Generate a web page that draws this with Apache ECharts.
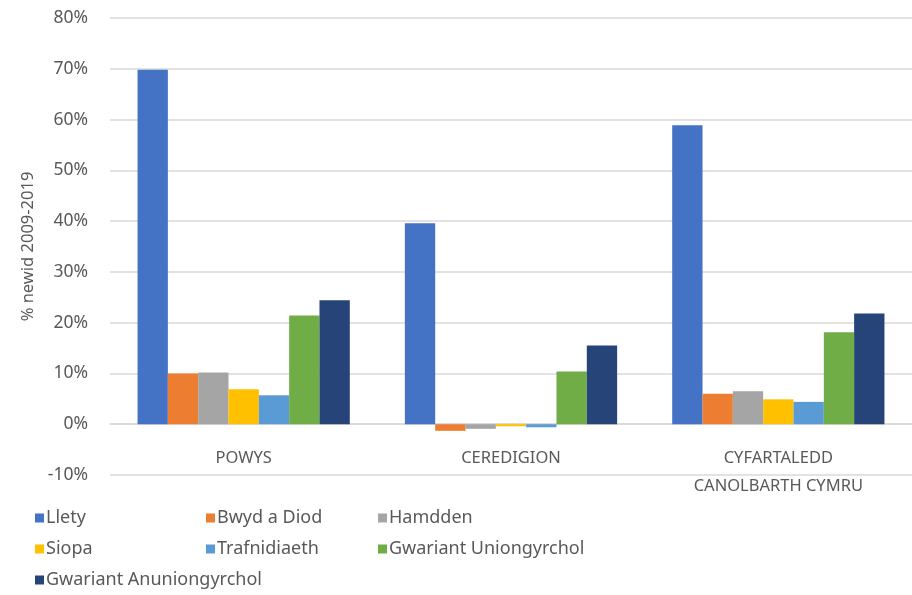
<!DOCTYPE html>
<html>
<head>
<meta charset="utf-8">
<script src="https://cdn.jsdelivr.net/npm/echarts@6/dist/echarts.min.js"></script>
<style>
  html, body { margin: 0; padding: 0; background: #fff; }
  #chart { width: 912px; height: 595px; }
</style>
</head>
<body>
<div id="chart"></div>
<script>
const categories = ['POWYS', 'CEREDIGION', 'CYFARTALEDD\nCANOLBARTH CYMRU']
const seriesNames = ['Llety', 'Bwyd a Diod', 'Hamdden', 'Siopa', 'Trafnidiaeth', 'Gwariant Uniongyrchol', 'Gwariant Anuniongyrchol']
const llety = [69.8, 39.6, 58.9]
const bwyd = [10.0, -1.3, 6.0]
const hamdden = [10.2, -0.9, 6.5]
const siopa = [6.9, -0.4, 4.9]
const trafnidiaeth = [5.7, -0.6, 4.4]
const uniongyrchol = [21.4, 10.4, 18.1]
const anuniongyrchol = [24.4, 15.5, 21.8]
const colors = ['#4472C4', '#ED7D31', '#A5A5A5', '#FFC000', '#5B9BD5', '#70AD47', '#264478']

const values = [llety, bwyd, hamdden, siopa, trafnidiaeth, uniongyrchol, anuniongyrchol]
const font = "'Noto Sans', 'Open Sans', sans-serif"
const textColor = '#595959'

// one legend per item so the three columns line up
const colX = [35, 206, 378]
const rowY = [509, 540, 571]
const legends = seriesNames.map((name, i) => ({
    data: [name],
    left: colX[i % 3],
    top: rowY[Math.floor(i / 3)],
    padding: 0,
    icon: 'rect',
    itemWidth: 9,
    itemHeight: 9,
    itemGap: 0,
    textStyle: { fontFamily: font, fontSize: 18, color: textColor, padding: [0, 0, 0, -3] }
}))

const chart = echarts.init(document.getElementById('chart'))
chart.setOption({
    animation: false,
    color: colors,
    legend: legends,
    grid: { left: 110, right: 0, top: 18, bottom: 120, containLabel: false },
    xAxis: {
        type: 'category',
        data: categories,
        // category labels sit under the 0% line, one step above the grid bottom
        offset: -51,
        axisLine: { show: true, onZero: false, lineStyle: { color: '#d9d9d9', width: 1.5 } },
        axisTick: { show: false },
        axisLabel: {
            fontFamily: font, fontSize: 16.5, color: textColor,
            lineHeight: 28, margin: 20, interval: 0
        }
    },
    yAxis: {
        type: 'value',
        min: -10,
        max: 80,
        interval: 10,
        name: '% newid 2009-2019',
        nameLocation: 'middle',
        nameGap: 73,
        nameTextStyle: { fontFamily: font, fontSize: 16.5, color: textColor },
        axisLine: { show: false },
        axisTick: { show: false },
        axisLabel: {
            fontFamily: font, fontSize: 17.5, color: textColor, margin: 22,
            formatter: v => v + '%'
        },
        splitLine: { lineStyle: { color: '#d9d9d9', width: 1.5 } }
    },
    series: seriesNames.map((name, i) => ({
        name: name,
        type: 'bar',
        data: values[i],
        barGap: '0%',
        barCategoryGap: '20.6%',
        itemStyle: { color: colors[i] }
    }))
})
</script>
</body>
</html>
